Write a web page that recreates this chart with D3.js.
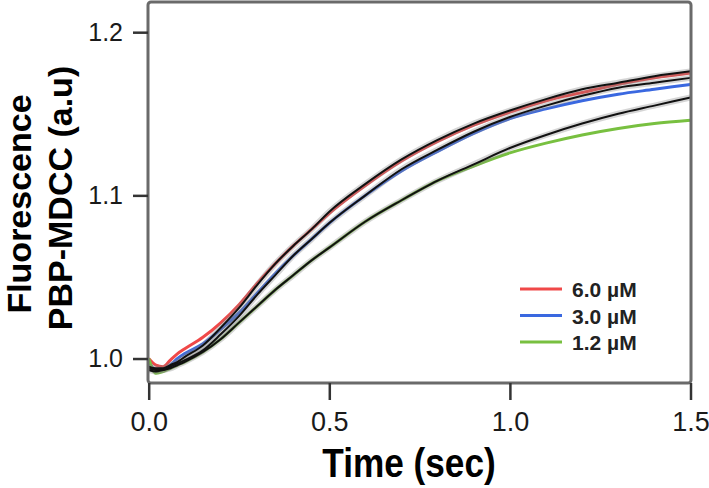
<!DOCTYPE html>
<html><head><meta charset="utf-8">
<script src="https://cdn.jsdelivr.net/npm/d3@7"></script>
<style>body{margin:0;background:#fff;} svg{display:block;}</style>
</head><body>
<svg id="c" width="709" height="488"></svg>
<script>
const times = [0, 0.02, 0.04, 0.06, 0.08, 0.1, 0.15, 0.2, 0.25, 0.3, 0.35, 0.4, 0.45, 0.5, 0.6, 0.7, 0.8, 0.9, 1.0, 1.1, 1.2, 1.3, 1.4, 1.5];
const red6  = [1.000, 0.996, 0.995, 0.999, 1.003, 1.006, 1.013, 1.022, 1.033, 1.046, 1.058, 1.069, 1.079, 1.089, 1.106, 1.121, 1.133, 1.143, 1.151, 1.158, 1.163, 1.168, 1.172, 1.175];
const fit6  = [0.995, 0.994, 0.994, 0.996, 0.998, 1.001, 1.008, 1.019, 1.031, 1.045, 1.058, 1.069, 1.079, 1.090, 1.107, 1.122, 1.134, 1.144, 1.152, 1.159, 1.165, 1.169, 1.173, 1.176];
const blue3 = [0.998, 0.993, 0.993, 0.996, 1.000, 1.003, 1.009, 1.018, 1.028, 1.040, 1.052, 1.063, 1.073, 1.083, 1.100, 1.115, 1.127, 1.138, 1.147, 1.153, 1.158, 1.162, 1.165, 1.168];
const fit3  = [0.994, 0.993, 0.993, 0.995, 0.997, 0.999, 1.005, 1.015, 1.026, 1.039, 1.051, 1.063, 1.073, 1.083, 1.100, 1.116, 1.128, 1.139, 1.148, 1.155, 1.161, 1.166, 1.169, 1.172];
const green12 = [1.000, 0.991, 0.992, 0.994, 0.996, 0.998, 1.004, 1.012, 1.022, 1.032, 1.042, 1.051, 1.060, 1.068, 1.084, 1.097, 1.109, 1.118, 1.126, 1.132, 1.137, 1.141, 1.144, 1.146];
const fit12 = [0.993, 0.992, 0.993, 0.994, 0.996, 0.998, 1.004, 1.012, 1.022, 1.032, 1.042, 1.051, 1.060, 1.068, 1.084, 1.097, 1.109, 1.119, 1.129, 1.137, 1.144, 1.150, 1.155, 1.160];
const legendLabels = ["6.0 µM", "3.0 µM", "1.2 µM"];
const seriesColors = ["#f04848", "#3a68e0", "#78c040"];
const xTicks = [0, 0.5, 1.0, 1.5];
const yTicks = [1.0, 1.1, 1.2];

const FONT = "Liberation Sans, Arial, sans-serif";
const svg = d3.select("#c");
const L = 148, R = 691, T = 2, B = 383;
const x = d3.scaleLinear().domain([0, 1.5]).range([148.7, 690.5]);
const y = d3.scaleLinear().domain([0.985, 1.2185]).range([B, T]);

const line = d3.line().x((d, i) => x(times[i])).y(d => y(d)).curve(d3.curveMonotoneX);

const dataSeries = [red6, blue3, green12];
const fits = [fit6, fit3, fit12];

const g = svg.append("g");
dataSeries.forEach((s, k) => {
  g.append("path").attr("d", line(s)).attr("fill", "none")
    .attr("stroke", seriesColors[k]).attr("stroke-width", 3);
});
fits.forEach(s => {
  g.append("path").attr("d", line(s)).attr("fill", "none")
    .attr("stroke", "#888").attr("stroke-opacity", 0.35).attr("stroke-width", 6);
});
fits.forEach(s => {
  g.append("path").attr("d", line(s)).attr("fill", "none")
    .attr("stroke", "#111").attr("stroke-width", 2);
});

// frame
svg.append("rect").attr("x", L).attr("y", T).attr("width", R - L).attr("height", B - T)
  .attr("rx", 3).attr("fill", "none").attr("stroke", "#6a6a6a").attr("stroke-width", 3);

// y axis
const yAxis = d3.axisLeft(y).tickValues(yTicks).tickFormat(d3.format(".1f")).tickSize(15).tickPadding(10);
const ya = svg.append("g").attr("transform", `translate(${L},0)`).call(yAxis);
ya.select(".domain").remove();
ya.selectAll(".tick line").attr("stroke", "#333").attr("stroke-width", 2.5);
ya.selectAll(".tick text").attr("fill", "#1a1a1a").style("font-family", FONT).style("font-size", "25px");

// x axis
const xAxis = d3.axisBottom(x).tickValues(xTicks).tickFormat(d3.format(".1f")).tickSize(17).tickPadding(12);
const xa = svg.append("g").attr("transform", `translate(0,${B})`).call(xAxis);
xa.select(".domain").remove();
xa.selectAll(".tick line").attr("stroke", "#333").attr("stroke-width", 2.5);
xa.selectAll(".tick text").attr("fill", "#1a1a1a").style("font-family", FONT).style("font-size", "27px");

// axis titles
svg.append("text").attr("transform", "translate(409,477) scale(0.88,1)").attr("text-anchor", "middle")
  .style("font-family", FONT).style("font-weight", "bold").style("font-size", "40px")
  .attr("fill", "#000").text("Time (sec)");
svg.append("text").attr("transform", "translate(31,204) rotate(-90)").attr("text-anchor", "middle")
  .style("font-family", FONT).style("font-weight", "bold").style("font-size", "34px")
  .attr("fill", "#000").text("Fluorescence");
svg.append("text").attr("transform", "translate(72,198) rotate(-90)").attr("text-anchor", "middle")
  .style("font-family", FONT).style("font-weight", "bold").style("font-size", "34px")
  .attr("fill", "#000").text("PBP-MDCC (a.u)");

// legend
const legY = d3.scalePoint().domain(legendLabels).range([289, 342]);
const leg = svg.append("g");
legendLabels.forEach((lab, k) => {
  leg.append("line").attr("x1", 520).attr("x2", 562).attr("y1", legY(lab)).attr("y2", legY(lab))
    .attr("stroke", seriesColors[k]).attr("stroke-width", 3);
  leg.append("text").attr("x", 572).attr("y", legY(lab) + 8)
    .style("font-family", FONT).style("font-weight", "bold").style("font-size", "21px")
    .attr("fill", "#222").text(lab);
});
</script>
</body></html>
